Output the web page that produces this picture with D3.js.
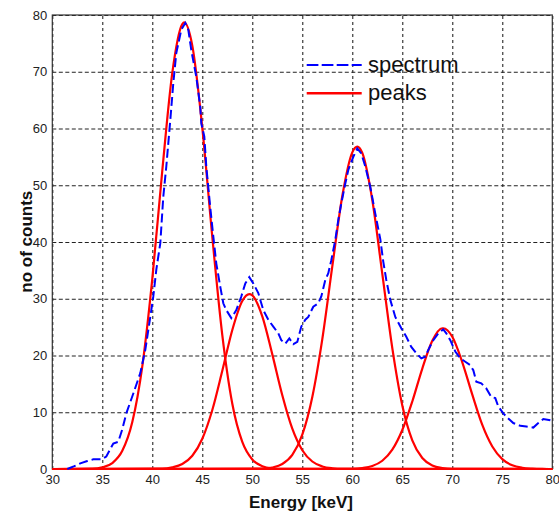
<!DOCTYPE html>
<html><head><meta charset="utf-8">
<script src="https://cdn.jsdelivr.net/npm/d3@7/dist/d3.min.js"></script>
<style>body{margin:0;background:#fff}svg{display:block}</style>
</head><body>
<svg id="c" width="559" height="518"></svg>
<script>
// ---- data ----
const xTicks = [30,35,40,45,50,55,60,65,70,75,80];
const yTicks = [0,10,20,30,40,50,60,70,80];
const seriesNames = ["spectrum","peaks"];

const specE = [31.5,32.2,32.8,33.5,34.1,34.9,35.4,36.1,36.6,37.0,37.4,38.1,38.8,39.3,39.8,40.1,40.4,40.8,41.1,41.4,41.8,42.1,42.4,42.9,43.3,43.6,43.9,44.4,44.8,44.9,45.2,45.4,45.8,46.1,46.4,46.8,47.1,47.4,47.9,48.4,48.9,49.3,49.7,50.1,50.6,51.1,51.6,52.1,52.6,52.9,53.3,53.7,54.1,54.5,54.9,55.3,55.6,56.1,56.6,56.9,57.3,57.6,57.9,58.3,58.6,58.9,59.3,59.6,60.1,60.5,60.9,61.3,61.8,62.3,62.8,63.1,63.4,63.8,64.3,64.9,65.4,65.9,66.4,66.9,67.3,67.6,68.1,68.6,69.1,69.4,69.8,70.3,70.8,71.3,71.8,72.1,72.4,72.9,73.4,73.9,74.3,74.6,75.1,75.6,76.1,76.8,77.4,78.1,78.6,79.1,79.8,80];
const specC = [0,0.5,1.0,1.4,1.7,1.7,2.2,4.5,4.8,7.0,9.8,13.3,16.9,21.0,26.8,30.4,35.1,39.8,48.0,53.3,61.5,68.0,73.3,77.4,78.6,77.4,73.8,69.1,63.8,60.9,58.6,53.3,46.0,41.0,36.2,32.1,29.2,28.0,26.6,28.0,30.4,32.7,33.8,32.7,31.0,28.0,26.3,25.1,23.9,22.7,22.1,23.0,22.0,22.4,25.1,26.3,26.8,28.6,29.2,30.4,33.3,34.5,36.8,40.4,43.9,46.8,50.3,52.7,55.0,56.5,55.6,53.3,49.7,45.0,40.5,36.5,33.3,29.8,26.8,24.8,23.3,21.5,20.4,19.5,19.8,21.0,22.7,23.9,24.6,23.9,22.7,20.7,19.5,18.9,18.3,17.4,15.4,15.1,14.2,12.7,12.5,11.0,9.8,8.9,8.1,7.6,7.5,7.3,8.1,8.8,8.6,8.5];

const peak1E = [30,34,35,36,37,38,39,40,41,42,43,43.2,44,45,46,47,48,49,50,51,52,53,80];
const peak1C = [0,0.05,0.29,1.05,3.2,8.27,18.1,33.5,52.6,69.8,78.4,78.7,74.6,60.1,40.9,23.6,11.5,4.77,1.67,0.5,0.12,0.02,0];
const peak2E = [30,41,42,43,44,45,46,47,48,49,49.7,50,51,52,53,54,55,56,57,58,59,80];
const peak2C = [0,0.05,0.28,0.87,2.33,5.34,10.4,17.3,24.5,29.6,30.8,30.6,26.9,20.2,13.0,7.1,3.31,1.32,0.45,0.13,0.03,0];
const peak3E = [30,51,52,53,54,55,56,57,58,59,60,60.5,61,62,63,64,65,66,67,68,69,70,80];
const peak3C = [0,0.06,0.27,0.88,2.48,6.04,12.7,22.9,35.7,48.1,55.8,56.8,55.7,47.4,34.4,21.3,11.2,5.05,1.93,0.63,0.18,0.04,0];
const peak4E = [30,60,61,62,63,64,65,66,67,68,69,69.1,70,71,72,73,74,75,76,77,78,79,80];
const peak4C = [0,0.04,0.17,0.53,1.45,3.4,6.87,11.9,17.7,22.6,24.8,24.8,23.3,18.8,13.1,7.77,3.97,1.74,0.65,0.21,0.06,0.01,0];

// ---- chart ----
const svg = d3.select("#c");
const x = d3.scaleLinear().domain([30,80]).range([52.3,552.3]);
const y = d3.scaleLinear().domain([0,80]).range([469,15]);
const font = "'Liberation Sans', Arial, sans-serif";

// grid
const gx = svg.append("g").attr("transform","translate(0,469)")
  .call(d3.axisBottom(x).tickValues(xTicks).tickSize(-454).tickFormat(""));
gx.select(".domain").remove();
gx.selectAll("line").attr("stroke","#111").attr("stroke-width",1).attr("stroke-dasharray","3,3");
const gy = svg.append("g").attr("transform","translate(52.3,0)")
  .call(d3.axisLeft(y).tickValues(yTicks).tickSize(-500).tickFormat(""));
gy.select(".domain").remove();
gy.selectAll("line").attr("stroke","#222").attr("stroke-width",1).attr("stroke-dasharray","4,2.5");

// box
svg.append("rect").attr("x",x(30)).attr("y",y(80)).attr("width",x(80)-x(30)).attr("height",y(0)-y(80))
  .attr("fill","none").attr("stroke","#333").attr("stroke-width",1.2);

// tick labels
const ax = svg.append("g").attr("transform","translate(0,469)")
  .call(d3.axisBottom(x).tickValues(xTicks).tickSize(0).tickPadding(6));
ax.select(".domain").remove();
ax.selectAll("text").attr("font-family",font).attr("font-size",13).attr("fill","#222");
const ay = svg.append("g").attr("transform","translate(52.3,0)")
  .call(d3.axisLeft(y).tickValues(yTicks).tickSize(0).tickPadding(5));
ay.select(".domain").remove();
ay.selectAll("text").attr("font-family",font).attr("font-size",13).attr("fill","#222");

// lines
const line = d3.line().x(d=>x(d[0])).y(d=>y(d[1]));
const lineM = d3.line().x(d=>x(d[0])).y(d=>y(d[1])).curve(d3.curveMonotoneX);
const peaks = [[peak1E,peak1C],[peak2E,peak2C],[peak3E,peak3C],[peak4E,peak4C]];
svg.append("g").selectAll("path").data(peaks).join("path")
  .attr("d",p=>lineM(d3.zip(p[0],p[1])))
  .attr("fill","none").attr("stroke","#ff0000").attr("stroke-width",2.2).attr("stroke-linejoin","round");
svg.append("path").attr("d",line(d3.zip(specE,specC)))
  .attr("fill","none").attr("stroke","#0000ff").attr("stroke-width",2).attr("stroke-dasharray","9,4");

// legend
const leg = svg.append("g");
leg.append("line").attr("x1",306.7).attr("x2",361.7).attr("y1",65).attr("y2",65)
  .attr("stroke","#0000ff").attr("stroke-width",2.2).attr("stroke-dasharray","11.7,3.3");
leg.append("line").attr("x1",306.7).attr("x2",361.7).attr("y1",93.3).attr("y2",93.3)
  .attr("stroke","#ff0000").attr("stroke-width",2.4);
leg.selectAll("text").data(seriesNames).join("text")
  .attr("x",368).attr("y",(d,i)=>72+i*28.3).text(d=>d)
  .attr("font-family",font).attr("font-size",22).attr("fill","#111");

// axis titles
svg.append("text").attr("x",301).attr("y",508).attr("text-anchor","middle")
  .attr("font-family",font).attr("font-size",17).attr("font-weight","bold").attr("fill","#111")
  .text("Energy [keV]");
svg.append("text").attr("transform","translate(31.5,241.7) rotate(-90)").attr("text-anchor","middle")
  .attr("font-family",font).attr("font-size",17).attr("font-weight","bold").attr("fill","#111")
  .text("no of counts");
</script>
</body></html>
